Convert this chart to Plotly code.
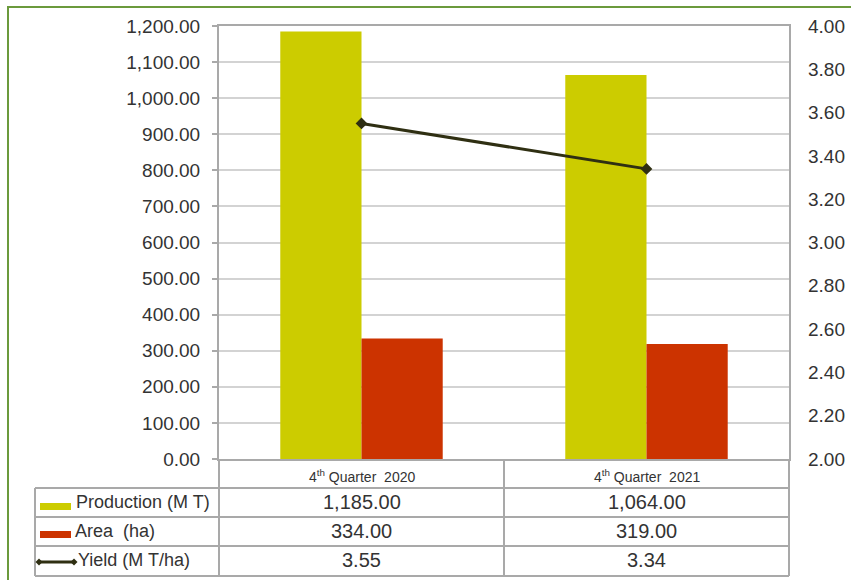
import plotly.graph_objects as go

# ---- data ----
categories = ["4<sup>th</sup> Quarter  2020", "4<sup>th</sup> Quarter  2021"]
production = [1185.00, 1064.00]
area = [334.00, 319.00]
yield_vals = [3.55, 3.34]
series_names = ["Production (M T)", "Area  (ha)", "Yield (M T/ha)"]
left_ticks = [0, 100, 200, 300, 400, 500, 600, 700, 800, 900, 1000, 1100, 1200]
right_ticks = [2.0, 2.2, 2.4, 2.6, 2.8, 3.0, 3.2, 3.4, 3.6, 3.8, 4.0]

# ---- styles ----
W, H = 851, 580
C_PROD = "#CCCC00"
C_AREA = "#CC3300"
C_YIELD = "#2F2F12"
GRID = "#D3D3D3"
BORDER = "#A9A9A9"
TXT = "#333333"
FONT = "Liberation Sans, Arial, sans-serif"


def px(x):
    return x / W


def py(y):
    return 1 - y / H


fig = go.Figure()
fig.add_bar(x=categories, y=production, name=series_names[0],
            marker=dict(color=C_PROD, line=dict(width=0)))
fig.add_bar(x=categories, y=area, name=series_names[1],
            marker=dict(color=C_AREA, line=dict(width=0)))
fig.add_scatter(x=categories, y=yield_vals, name=series_names[2], yaxis="y2",
                mode="lines+markers",
                line=dict(color=C_YIELD, width=3),
                marker=dict(symbol="diamond", size=9, color=C_YIELD))

shapes = []
annotations = []

# outer green frame (cut off at right/bottom like the reference)
shapes.append(dict(type="rect", xref="paper", yref="paper",
                   x0=px(8), x1=px(870), y0=py(600), y1=py(7),
                   line=dict(color="#6B9A3C", width=2), layer="below"))

# data table grid
tl, tc, tr = 35, 219, 789
rows_y = [459, 488, 517, 546, 576]
for yy in rows_y[1:]:
    shapes.append(dict(type="line", xref="paper", yref="paper",
                       x0=px(tl), x1=px(tr), y0=py(yy), y1=py(yy),
                       line=dict(color=BORDER, width=2)))
shapes.append(dict(type="line", xref="paper", yref="paper",
                   x0=px(tl), x1=px(tl), y0=py(488), y1=py(576),
                   line=dict(color=BORDER, width=2)))
for xx in (tc, tr):
    shapes.append(dict(type="line", xref="paper", yref="paper",
                       x0=px(xx), x1=px(xx), y0=py(459), y1=py(576),
                       line=dict(color=BORDER, width=2)))
shapes.append(dict(type="line", xref="x", yref="paper",
                   x0=0.5, x1=0.5, y0=py(459), y1=py(576),
                   line=dict(color=BORDER, width=2)))

# header row: category names
for c in categories:
    annotations.append(dict(x=c, xref="x", y=py(476), yref="paper",
                            xanchor="center", yanchor="middle",
                            text=c, showarrow=False,
                            font=dict(size=14, color=TXT, family=FONT)))

# value rows
row_centers = [502, 531, 560]
row_values = [
    ["{:,.2f}".format(v) for v in production],
    ["{:,.2f}".format(v) for v in area],
    ["{:,.2f}".format(v) for v in yield_vals],
]
for yc, vals in zip(row_centers, row_values):
    for c, t in zip(categories, vals):
        annotations.append(dict(x=c, xref="x", y=py(yc), yref="paper",
                                xanchor="center", yanchor="middle",
                                text=t, showarrow=False,
                                font=dict(size=20, color=TXT, family=FONT)))

# row labels
label_x = [74, 73, 76]
for yc, name, lx in zip(row_centers, series_names, label_x):
    annotations.append(dict(x=px(lx), xref="paper", y=py(yc), yref="paper",
                            xanchor="left", yanchor="middle",
                            text=name, showarrow=False,
                            font=dict(size=18, color=TXT, family=FONT)))

# legend keys inside the table
shapes.append(dict(type="rect", xref="paper", yref="paper",
                   x0=px(40), x1=px(71), y0=py(510), y1=py(503),
                   fillcolor=C_PROD, line=dict(width=0)))
shapes.append(dict(type="rect", xref="paper", yref="paper",
                   x0=px(40), x1=px(71), y0=py(538), y1=py(531),
                   fillcolor=C_AREA, line=dict(width=0)))
shapes.append(dict(type="line", xref="paper", yref="paper",
                   x0=px(39), x1=px(74), y0=py(562), y1=py(562),
                   line=dict(color=C_YIELD, width=3)))
for cx in (39, 74):
    shapes.append(dict(type="path", xref="paper", yref="paper",
                       path="M {a},{b} L {c},{d} L {e},{b} L {c},{f} Z".format(
                           a=px(cx - 3.5), b=py(562), c=px(cx), d=py(558.5),
                           e=px(cx + 3.5), f=py(565.5)),
                       fillcolor=C_YIELD, line=dict(width=0)))

fig.update_layout(
    width=W, height=H,
    margin=dict(l=0, r=0, t=0, b=0, pad=0, autoexpand=False),
    paper_bgcolor="white", plot_bgcolor="white",
    showlegend=False,
    barmode="group", bargap=0.43, bargroupgap=0,
    font=dict(family=FONT, color=TXT),
    xaxis=dict(domain=[px(tc), px(tr)], type="category", range=[-0.5, 1.5],
               showticklabels=False, ticks="", showgrid=False,
               showline=True, linecolor=BORDER, linewidth=2, mirror=True,
               zeroline=False, automargin=False),
    yaxis=dict(domain=[py(459), py(26)], range=[0, 1200],
               tickvals=left_ticks,
               ticktext=["{:,.2f}".format(v) for v in left_ticks],
               showgrid=True, gridcolor=GRID, gridwidth=2,
               ticks="outside", ticklen=5, tickcolor=BORDER, tickwidth=2,
               showline=True, linecolor=BORDER, linewidth=2, mirror=True,
               zeroline=False, ticklabelstandoff=8, automargin=False,
               tickfont=dict(size=19, color=TXT, family=FONT)),
    yaxis2=dict(overlaying="y", side="right", range=[2, 4],
                tickvals=right_ticks,
                ticktext=["{:.2f}".format(v) for v in right_ticks],
                showgrid=False, ticks="", showline=False, zeroline=False,
                ticklabelstandoff=18, automargin=False,
                tickfont=dict(size=19, color=TXT, family=FONT)),
    shapes=shapes,
    annotations=annotations,
)

fig.write_html(
    "out.html",
    config={"displayModeBar": False},
    post_script=(
        "document.documentElement.style.margin='0';"
        "document.documentElement.style.overflow='hidden';"
        "document.body.style.margin='0';"
        "document.body.style.overflow='hidden';"
        "var gd=document.getElementById('{plot_id}');"
        "gd.style.position='fixed';gd.style.top='0px';gd.style.left='0px';"
    ),
)
